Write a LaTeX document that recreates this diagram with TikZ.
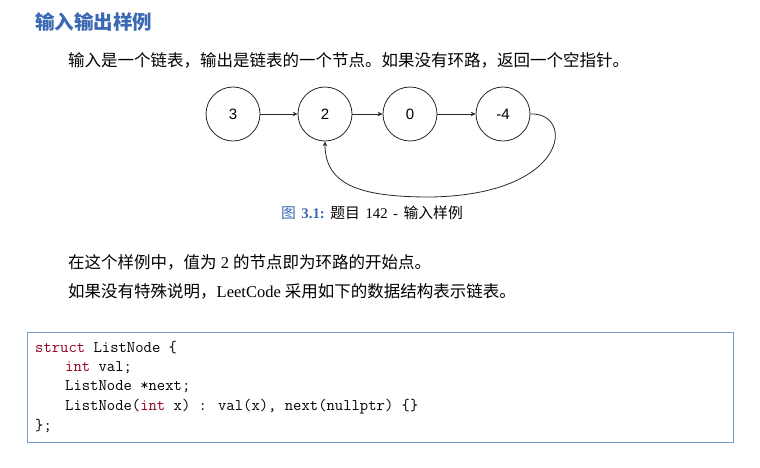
\documentclass[tikz,border=0pt]{standalone}
\usepackage{fontspec}
\setmainfont{Liberation Serif}
\newfontfamily\cjk{Noto Sans CJK SC}
\newfontfamily\arialf{Liberation Sans}
\usetikzlibrary{arrows.meta}
\definecolor{titleblue}{RGB}{60,105,180}
\definecolor{boxblue}{RGB}{120,155,205}
\definecolor{kwred}{RGB}{150,0,30}
\definecolor{linegray}{RGB}{40,40,40}
\newcommand{\capsp}{\hskip 5.5pt\relax}
\tikzset{
  listnode/.style={circle,draw=linegray,line width=0.8pt,minimum size=54pt,inner sep=0pt,font=\arialf\fontsize{15}{18}\selectfont},
  link/.style={draw=linegray,line width=0.8pt,-{Stealth[length=5pt,width=4.5pt]}},
  bodytext/.style={anchor=west,inner sep=0pt,font=\fontsize{16.5}{20}\selectfont},
  codeline/.style={anchor=west,inner sep=0pt,text=black,font=\ttfamily\fontsize{16.2}{19}\selectfont},
  codebox/.style={draw=boxblue,line width=1pt,fill=white}
}
\begin{document}
\begin{tikzpicture}[x=1pt,y=-1pt]
\useasboundingbox[fill=white] (0,0) rectangle (760,467);
% title
\node[anchor=west,inner sep=0pt,text=titleblue,font=\fontsize{19.5}{22}\selectfont\cjk\bfseries] (title) at (35,22) {输入输出样例};
% first paragraph
\node[bodytext] (intro) at (68,60) {\cjk 输入是一个链表，输出是链表的一个节点。如果没有环路，返回一个空指针。};
% linked list
\node[listnode] (n3) at (233,114) {3};
\node[listnode] (n2) at (325,114) {2};
\node[listnode] (n0) at (410,114) {0};
\node[listnode] (n4) at (503,114) {-4};
\draw[link] (n3) -- (n2);
\draw[link] (n2) -- (n0);
\draw[link] (n0) -- (n4);
\coordinate (loopbottom) at (430,197);
\draw[link] (n4.east) .. controls (575,112) and (570,195) .. (loopbottom)
  .. controls (360,197) and (325,185) .. (n2.south);
% caption
\node[anchor=center,inner sep=0pt,font=\fontsize{14.8}{17}\selectfont] (caption) at (372,213)
  {{\color{titleblue}{\cjk 图}\capsp\textbf{3.1:}}\capsp{\cjk 题目}\capsp 142\capsp-\capsp{\cjk 输入样例}};
% paragraphs
\node[bodytext] (para1) at (68,262) {{\cjk 在这个样例中，值为} 2 {\cjk 的节点即为环路的开始点。}};
\node[bodytext] (para2) at (68,291) {{\cjk 如果没有特殊说明，}LeetCode {\cjk 采用如下的数据结构表示链表。}};
% code box
\draw[codebox] (27,332) rectangle (733,442);
\node[codeline] (c1) at (35,348) {\textcolor{kwred}{struct} ListNode \{};
\node[codeline] (c2) at (65,367.5) {\textcolor{kwred}{int} val;};
\node[codeline] (c3) at (65,387) {ListNode *next;};
\node[codeline] (c4) at (65,406.5) {ListNode(\textcolor{kwred}{int} x) : val(x), next(nullptr) \{\}};
\node[codeline] (c5) at (35,426) {\};};
\end{tikzpicture}
\end{document}
